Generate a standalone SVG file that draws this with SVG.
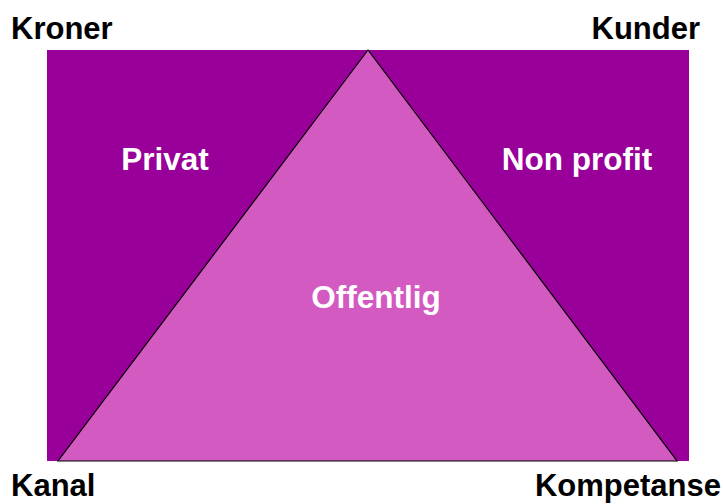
<svg xmlns="http://www.w3.org/2000/svg" width="723" height="504" viewBox="0 0 723 504">
<style>
.lbl{font-family:"Liberation Sans",Arial,sans-serif;font-weight:bold;font-size:31px;fill:#000}
.in{font-family:"Liberation Sans",Arial,sans-serif;font-weight:bold;font-size:31.5px;fill:#fff}
</style>
<rect width="723" height="504" fill="#fff"/>
<g id="background">
<rect x="47" y="50" width="642" height="411" fill="#990099"/>
</g>
<g id="triangle">
<polygon points="368,50 58,461 677,461" fill="#D35AC1" stroke="#000" stroke-width="1.2"/>
</g>
<g id="labels-corners">
<text class="lbl" x="11" y="39">Kroner</text>
<text class="lbl" x="700" y="39" text-anchor="end">Kunder</text>
<text class="lbl" x="11" y="496">Kanal</text>
<text class="lbl" x="721" y="496" text-anchor="end">Kompetanse</text>
</g>
<g id="node-privat"><text class="in" x="165" y="170" text-anchor="middle">Privat</text></g>
<g id="node-nonprofit"><text class="in" x="577" y="170" text-anchor="middle">Non profit</text></g>
<g id="node-offentlig"><text class="in" x="376" y="308" text-anchor="middle">Offentlig</text></g>
</svg>
